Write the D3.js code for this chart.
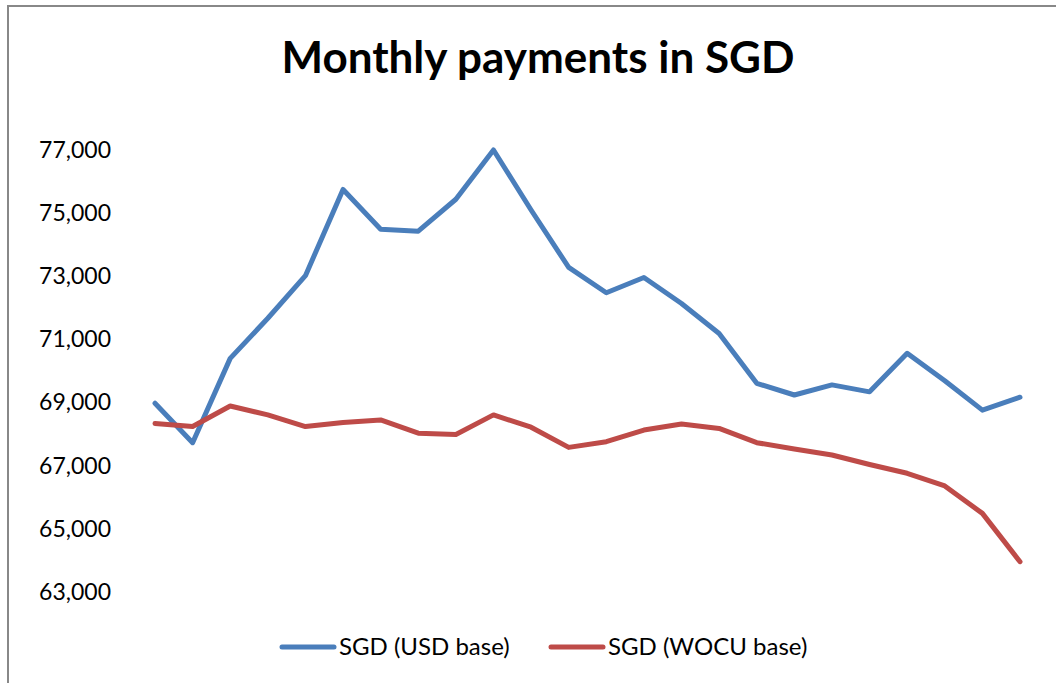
<!DOCTYPE html>
<html>
<head>
<meta charset="utf-8">
<script src="https://cdn.jsdelivr.net/npm/d3@7"></script>
<style>
  body { margin: 0; background: #fff; }
  text { font-family: Lato, "Open Sans", sans-serif; fill: #000; }
</style>
</head>
<body>
<svg width="1056" height="683"></svg>
<script>
const months = d3.range(24); // 24 monthly payments, no x labels shown

const usdBase = [
  68980, 67730, 70400, 71670, 73020, 75750, 74490, 74430, 75440, 77000,
  75100, 73280, 72480, 72960, 72140, 71190, 69610, 69240, 69560, 69340,
  70560, 69690, 68760, 69170,
];

const wocuBase = [
  68340, 68240, 68890, 68610, 68240, 68370, 68450, 68030, 67990, 68610,
  68220, 67580, 67760, 68130, 68320, 68180, 67730, 67530, 67340, 67040,
  66760, 66360, 65490, 63960,
];

const yTicks = [63000, 65000, 67000, 69000, 71000, 73000, 75000, 77000];

const seriesNames = ["SGD (USD base)", "SGD (WOCU base)"];
const colors = ["#4a7ebb", "#be4b48"];

const width = 1056,
  height = 683;

const svg = d3.select("svg");

// chart frame (only left and top edges visible in the picture)
svg
  .append("rect")
  .attr("x", 8)
  .attr("y", 6)
  .attr("width", 1100)
  .attr("height", 720)
  .attr("fill", "none")
  .attr("stroke", "#888")
  .attr("stroke-width", 2);

svg
  .append("text")
  .attr("x", 538)
  .attr("y", 73)
  .attr("text-anchor", "middle")
  .attr("font-size", 44)
  .attr("font-weight", "bold")
  .text("Monthly payments in SGD");

const x = d3.scaleLinear().domain([0, 23]).range([155, 1020]);
const y = d3.scaleLinear().domain([63000, 77000]).range([592, 150]);

// y axis: labels only, no line or ticks
const yAxis = svg
  .append("g")
  .attr("transform", "translate(111,0)")
  .call(d3.axisLeft(y).tickValues(yTicks).tickFormat(d3.format(",")).tickSize(0).tickPadding(0));

yAxis.select(".domain").remove();
yAxis
  .selectAll("text")
  .attr("font-size", 23)
  .attr("font-family", "Lato, sans-serif")
  .attr("fill", "#000");

const line = d3
  .line()
  .x((d, i) => x(months[i]))
  .y((d) => y(d));

[usdBase, wocuBase].forEach((vals, k) => {
  svg
    .append("path")
    .datum(vals)
    .attr("d", line)
    .attr("fill", "none")
    .attr("stroke", colors[k])
    .attr("stroke-width", 5)
    .attr("stroke-linejoin", "round")
    .attr("stroke-linecap", "round");
});

// legend
const legendX = [282, 551];
const legend = svg
  .append("g")
  .selectAll("g")
  .data(seriesNames)
  .enter()
  .append("g")
  .attr("transform", (d, i) => `translate(${legendX[i]},647)`);

legend
  .append("line")
  .attr("x1", 0)
  .attr("x2", 52)
  .attr("stroke", (d, i) => colors[i])
  .attr("stroke-width", 5)
  .attr("stroke-linecap", "round");

legend
  .append("text")
  .attr("x", 57)
  .attr("y", 8)
  .attr("font-size", 24)
  .text((d) => d);
</script>
</body>
</html>
